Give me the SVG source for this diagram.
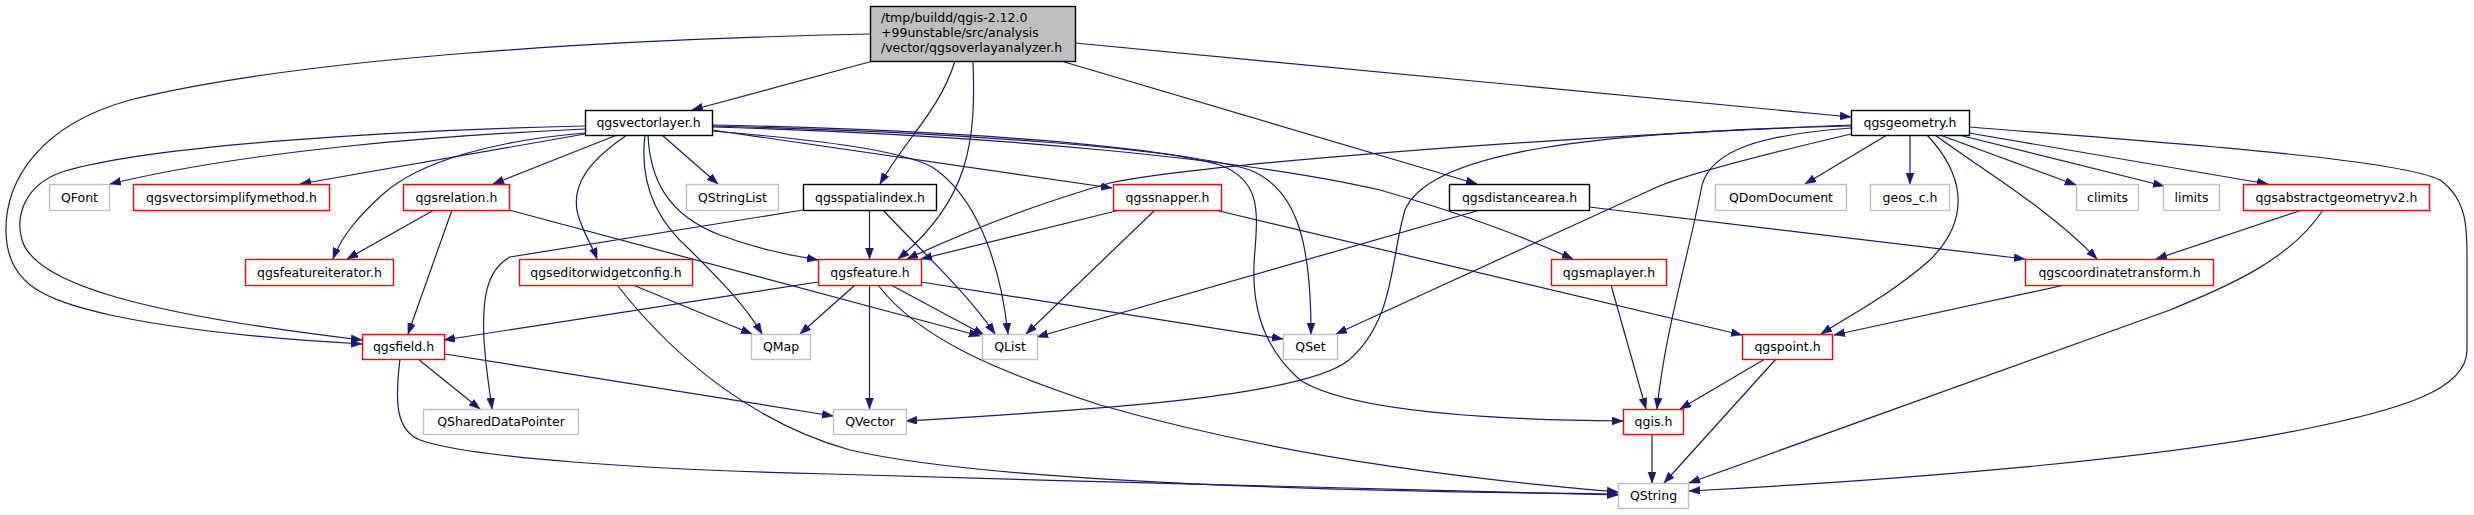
<svg xmlns="http://www.w3.org/2000/svg" width="2474" height="515" viewBox="0 0 2474 515">
<style>
.e{fill:none;stroke:#191970;stroke-width:1.2;marker-end:url(#a)}
.nb{fill:#fff;stroke:#000;stroke-width:1.4}
.nr{fill:#fff;stroke:#f00;stroke-width:1.4}
.ng{fill:#fff;stroke:#bfbfbf;stroke-width:1.4}
.nm{fill:#bfbfbf;stroke:#000;stroke-width:1.4}
text{font-family:"DejaVu Sans",sans-serif;font-size:12.5px;fill:#000;text-anchor:middle}
text.l{text-anchor:start}
</style>
<defs>
<marker id="a" markerUnits="userSpaceOnUse" markerWidth="12" markerHeight="9" refX="11" refY="4" orient="auto">
<path d="M0,0 L11,4 L0,8 z" fill="#191970" stroke="#191970" stroke-width="0.5"/>
</marker>
</defs>
<rect width="2474" height="515" fill="#fff"/>
<g id="edges">
<path class="e" d="M873,61 L692,110"/>
<path class="e" d="M870,34 C600,40 300,58 130,100 C40,125 5,180 6,232 C7,285 45,300 110,315 C190,332 290,340 362,344"/>
<path class="e" d="M955,61 C940,110 905,140 880,184"/>
<path class="e" d="M973,61 C976,140 970,200 898,259"/>
<path class="e" d="M1061,61 L1477,184"/>
<path class="e" d="M1075,43 L1851,117"/>
<path class="e" d="M585,126 C400,130 150,145 62,172 C25,185 15,215 22,240 C35,285 150,315 362,340"/>
<path class="e" d="M585,129 C450,135 250,150 110,184"/>
<path class="e" d="M585,134 L300,184"/>
<path class="e" d="M617,135 L493,184"/>
<path class="e" d="M585,133 C500,140 420,160 382,195 C360,215 342,235 333,259"/>
<path class="e" d="M627,135 C590,160 570,185 578,215 C584,235 592,245 597,259"/>
<path class="e" d="M662,135 L718,184"/>
<path class="e" d="M645,135 C640,175 650,215 690,250 C720,280 745,305 762,334"/>
<path class="e" d="M648,135 C650,180 668,215 720,235 C760,250 790,255 818,260"/>
<path class="e" d="M712,130 L1112,188"/>
<path class="e" d="M712,131 C820,140 900,150 932,167 C975,195 1000,260 1008,334"/>
<path class="e" d="M712,126 C950,132 1180,148 1250,170 C1300,190 1311,250 1311,334"/>
<path class="e" d="M712,125 C950,130 1150,145 1220,165 C1260,180 1258,210 1255,250 C1250,300 1260,345 1300,380 C1350,412 1500,420 1623,421"/>
<path class="e" d="M712,127 C1000,135 1250,160 1380,190 C1450,210 1520,235 1573,259"/>
<path class="e" d="M434,210 L347,259"/>
<path class="e" d="M452,210 L408,334"/>
<path class="e" d="M509,210 L980,336"/>
<path class="e" d="M803,210 L510,257 C486,270 482,300 484,340 C486,372 490,392 492,409"/>
<path class="e" d="M869.5,210 L869.5,259"/>
<path class="e" d="M883,210 C920,250 965,290 995,334"/>
<path class="e" d="M1120,210 L921,259"/>
<path class="e" d="M1155,210 L1026,334"/>
<path class="e" d="M1215,210 L1742,335"/>
<path class="e" d="M1480,210 L1037,337"/>
<path class="e" d="M1589,207 L2025,259"/>
<path class="e" d="M1887,135 L1805,184"/>
<path class="e" d="M1910,135 L1910,184"/>
<path class="e" d="M1940,135 L2076,185"/>
<path class="e" d="M1959,135 L2164,186"/>
<path class="e" d="M1969,133 L2268,184"/>
<path class="e" d="M1935,135 C1990,175 2050,210 2097,259"/>
<path class="e" d="M1927,135 C1960,170 1975,215 1930,260 C1890,295 1850,315 1821,334"/>
<path class="e" d="M1969,127 C2200,145 2400,160 2440,180 C2468,200 2467,230 2467,260 L2467,350 C2467,390 2400,410 2300,430 C2150,460 1900,480 1689,491"/>
<path class="e" d="M1851,134 Q1690,172 1655,188 L1336,334"/>
<path class="e" d="M1851,128 C1760,135 1712,150 1702,185 C1690,250 1665,330 1657,409"/>
<path class="e" d="M1851,126 C1600,132 1430,150 1405,210 C1390,260 1395,320 1349,360 C1300,400 1050,412 906,421"/>
<path class="e" d="M1851,125 C1500,140 1200,165 1110,183 C1050,200 980,225 907,259"/>
<path class="e" d="M818,282 L444,340"/>
<path class="e" d="M855,285 L800,334"/>
<path class="e" d="M869.5,285 L869.5,409"/>
<path class="e" d="M891,285 L984,335"/>
<path class="e" d="M921,282 L1283,339"/>
<path class="e" d="M878,285 C920,340 1000,372 1100,405 C1300,462 1500,482 1618,492"/>
<path class="e" d="M633,285 L752,334"/>
<path class="e" d="M617,285 C680,365 760,425 850,450 C1000,485 1400,492 1618,494"/>
<path class="e" d="M418,359 L480,409"/>
<path class="e" d="M445,354 L833,416"/>
<path class="e" d="M400,359 C395,400 395,430 420,440 C470,458 650,470 830,474 C1100,482 1400,490 1618,495"/>
<path class="e" d="M1611,285 L1646,409"/>
<path class="e" d="M2302,210 L2156,259"/>
<path class="e" d="M2323,210 C2290,260 2230,285 2170,310 L1689,483"/>
<path class="e" d="M2065,285 L1834,335"/>
<path class="e" d="M1765,359 L1680,409"/>
<path class="e" d="M1776,359 L1664,483"/>
<path class="e" d="M1652,434 L1652,483"/>
</g>
<g id="n_main"><rect class="nm" x="870.5" y="6.5" width="205" height="55"/>
<text class="l" x="881" y="21.5">/tmp/buildd/qgis-2.12.0</text>
<text class="l" x="881" y="36.5">+99unstable/src/analysis</text>
<text class="l" x="881" y="51.5">/vector/qgsoverlayanalyzer.h</text></g>
<g id="n_vectorlayer"><rect class="nb" x="585.5" y="110.5" width="127" height="25"/><text x="648.5" y="127">qgsvectorlayer.h</text></g>
<g id="n_geometry"><rect class="nb" x="1851.5" y="110.5" width="118" height="25"/><text x="1910" y="127">qgsgeometry.h</text></g>
<g id="n_qfont"><rect class="ng" x="49.5" y="184.5" width="60" height="26"/><text x="79.5" y="201.5">QFont</text></g>
<g id="n_vsimplify"><rect class="nr" x="133.5" y="184.5" width="196" height="26"/><text x="231.5" y="201.5">qgsvectorsimplifymethod.h</text></g>
<g id="n_relation"><rect class="nr" x="403.5" y="184.5" width="106" height="26"/><text x="456.5" y="201.5">qgsrelation.h</text></g>
<g id="n_qstringlist"><rect class="ng" x="686.5" y="184.5" width="92" height="26"/><text x="732.5" y="201.5">QStringList</text></g>
<g id="n_spatialindex"><rect class="nb" x="803.5" y="184.5" width="133" height="26"/><text x="870" y="201.5">qgsspatialindex.h</text></g>
<g id="n_snapper"><rect class="nr" x="1113.5" y="184.5" width="108" height="26"/><text x="1167.5" y="201.5">qgssnapper.h</text></g>
<g id="n_distancearea"><rect class="nb" x="1449.5" y="184.5" width="140" height="26"/><text x="1519.5" y="201.5">qgsdistancearea.h</text></g>
<g id="n_qdomdocument"><rect class="ng" x="1715.5" y="184.5" width="131" height="26"/><text x="1781" y="201.5">QDomDocument</text></g>
<g id="n_geos"><rect class="ng" x="1870.5" y="184.5" width="79" height="26"/><text x="1910" y="201.5">geos_c.h</text></g>
<g id="n_climits"><rect class="ng" x="2076.5" y="184.5" width="62" height="26"/><text x="2107.5" y="201.5">climits</text></g>
<g id="n_limits"><rect class="ng" x="2163.5" y="184.5" width="56" height="26"/><text x="2191.5" y="201.5">limits</text></g>
<g id="n_abstractgeom"><rect class="nr" x="2243.5" y="184.5" width="186" height="26"/><text x="2336.5" y="201.5">qgsabstractgeometryv2.h</text></g>
<g id="n_featureiterator"><rect class="nr" x="245.5" y="259.5" width="148" height="26"/><text x="319.5" y="276.5">qgsfeatureiterator.h</text></g>
<g id="n_editorwidget"><rect class="nr" x="519.5" y="259.5" width="173" height="26"/><text x="606" y="276.5">qgseditorwidgetconfig.h</text></g>
<g id="n_feature"><rect class="nr" x="818.5" y="259.5" width="103" height="26"/><text x="870" y="276.5">qgsfeature.h</text></g>
<g id="n_maplayer"><rect class="nr" x="1551.5" y="259.5" width="115" height="26"/><text x="1609" y="276.5">qgsmaplayer.h</text></g>
<g id="n_coordtransform"><rect class="nr" x="2025.5" y="259.5" width="188" height="26"/><text x="2119.5" y="276.5">qgscoordinatetransform.h</text></g>
<g id="n_field"><rect class="nr" x="362.5" y="334.5" width="82" height="25"/><text x="403.5" y="351">qgsfield.h</text></g>
<g id="n_qmap"><rect class="ng" x="751.5" y="334.5" width="59" height="25"/><text x="781" y="351">QMap</text></g>
<g id="n_qlist"><rect class="ng" x="982.5" y="334.5" width="55" height="25"/><text x="1010" y="351">QList</text></g>
<g id="n_qset"><rect class="ng" x="1283.5" y="334.5" width="54" height="25"/><text x="1310.5" y="351">QSet</text></g>
<g id="n_qgspoint"><rect class="nr" x="1742.5" y="334.5" width="90" height="25"/><text x="1787.5" y="351">qgspoint.h</text></g>
<g id="n_qshareddatapointer"><rect class="ng" x="423.5" y="409.5" width="155" height="25"/><text x="501" y="426">QSharedDataPointer</text></g>
<g id="n_qvector"><rect class="ng" x="833.5" y="409.5" width="73" height="25"/><text x="870" y="426">QVector</text></g>
<g id="n_qgis"><rect class="nr" x="1623.5" y="409.5" width="60" height="25"/><text x="1653.5" y="426">qgis.h</text></g>
<g id="n_qstring"><rect class="ng" x="1618.5" y="483.5" width="70" height="25"/><text x="1653.5" y="500">QString</text></g>
</svg>
